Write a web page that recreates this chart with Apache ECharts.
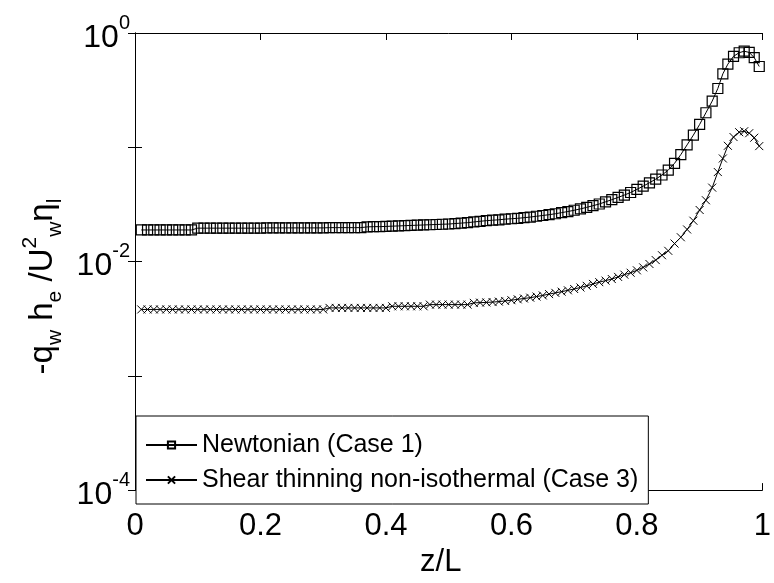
<!DOCTYPE html>
<html>
<head>
<meta charset="utf-8">
<script src="https://cdn.jsdelivr.net/npm/echarts@6/dist/echarts.min.js"></script>
<style>
html,body{margin:0;padding:0;background:#fff;}
#chart{width:774px;height:583px;}
</style>
</head>
<body>
<div id="chart"></div>
<script>
// z/L positions of the computed points
var zL = [
  0.01,0.02,0.03,0.04,0.05,0.06,0.07,0.08,0.09,0.10,
  0.11,0.12,0.13,0.14,0.15,0.16,0.17,0.18,0.19,0.20,
  0.21,0.22,0.23,0.24,0.25,0.26,0.27,0.28,0.29,0.30,
  0.31,0.32,0.33,0.34,0.35,0.36,0.37,0.38,0.39,0.40,
  0.41,0.42,0.43,0.44,0.45,0.46,0.47,0.48,0.49,0.50,
  0.51,0.52,0.53,0.54,0.55,0.56,0.57,0.58,0.59,0.60,
  0.61,0.62,0.63,0.64,0.65,0.66,0.67,0.68,0.69,0.70,
  0.71,0.72,0.73,0.74,0.75,0.76,0.77,0.78,0.79,0.80,
  0.81,0.82,0.83,0.84,0.85,0.86,0.87,0.88,0.89,0.90,
  0.91,0.92,0.929,0.937,0.945,0.954,0.963,0.971,0.979,0.987,
  0.995
];
// Newtonian (Case 1)
var newtonian = [
  0.0189,0.0189,0.0189,0.0189,0.0189,0.0189,0.0189,0.0189,0.0189,
  0.0196,0.0196,0.0196,0.0196,0.0196,0.0196,0.0196,0.0196,0.0196,0.0196,0.0196,
  0.0197,0.0197,0.0197,0.0197,0.0197,0.0197,0.0197,0.0197,0.0197,0.0197,
  0.0198,0.0198,0.0198,0.0198,0.0198,0.0198,
  0.0201,0.0202,0.0202,0.0203,0.0204,0.0205,0.0206,
  0.0207,0.0208,0.0209,0.0210,0.0211,
  0.0212,0.0213,0.0215,0.0217,
  0.0219,0.0222,0.0225,
  0.0228,0.0230,0.0232,0.0235,0.0237,0.0239,0.0242,0.0245,0.0249,0.0253,0.0257,0.0262,
  0.0268,0.0274,0.0281,0.0289,0.0298,0.0308,0.0319,0.0333,0.0348,0.0364,0.0382,0.0402,
  0.0428,0.0457,0.0489,0.0526,0.0572,0.0631,0.0724,0.0863,0.1050,0.1278,0.1585,0.2005,0.2536,
  0.327,0.439,0.534,0.625,0.672,0.693,0.676,0.609,0.509
];
// Shear thinning non-isothermal (Case 3)
var shearThinning = [
  0.00381,0.00381,0.00381,0.00381,0.00381,0.00381,0.00381,0.00381,0.00381,0.00381,
  0.00381,0.00381,0.00381,0.00381,0.00381,0.00381,0.00381,0.00381,0.00381,0.00381,
  0.00381,0.00381,0.00381,0.00381,0.00381,0.00381,0.00381,0.00381,0.00381,0.00381,
  0.00393,0.00393,0.00393,0.00393,0.00393,0.00393,0.00393,0.00393,0.00393,0.00393,
  0.00406,0.00406,0.00406,0.00406,0.00406,0.00406,
  0.00420,0.00420,0.00420,0.00420,0.00420,0.00420,0.00420,
  0.00435,0.00437,0.00439,0.00442,
  0.00446,0.00452,0.00459,0.00467,0.00475,0.00483,0.00494,0.00505,0.00519,0.00532,0.00545,
  0.00560,0.00575,0.00593,0.00613,0.00637,0.00660,0.00681,0.00703,0.00734,0.00768,0.00798,
  0.00838,0.00889,0.00952,0.01030,0.01136,0.01241,0.01437,0.01632,0.01909,0.02277,0.02825,0.03438,0.04434,
  0.0607,0.0798,0.1030,0.1229,0.1355,0.1381,0.1328,0.1212,0.1024
];
var seriesNames = ['Newtonian (Case 1)', 'Shear thinning non-isothermal (Case 3)'];
var xTicks = [0, 0.2, 0.4, 0.6, 0.8, 1];
var yMin = 1e-4, yMax = 1;

var FONT = '"Liberation Sans", Arial, Helvetica, sans-serif';

function pairs(ys) { return zL.map(function (z, i) { return [z, ys[i]]; }); }

var chart = echarts.init(document.getElementById('chart'), null, {renderer: 'canvas'});
var axisLineStyle = {color: '#000', width: 1};
var option = {
  animation: false,
  backgroundColor: '#fff',
  grid: {left: 135, top: 33, right: 9, bottom: 80, containLabel: false},
  xAxis: [{
    type: 'value', min: xTicks[0], max: xTicks[xTicks.length - 1], interval: 0.2,
    position: 'bottom',
    axisLine: {show: true, lineStyle: axisLineStyle},
    axisTick: {show: true, inside: true, length: 7, lineStyle: axisLineStyle},
    splitLine: {show: false},
    axisLabel: {color: '#000', fontFamily: FONT, fontSize: 31, margin: 21,
      formatter: function (v) { return String(Math.round(v * 10) / 10); }},
    name: 'z/L', nameLocation: 'middle', nameGap: 43,
    nameTextStyle: {color: '#000', fontFamily: FONT, fontSize: 31, padding: [0, 16, 0, 0]}
  }, {
    type: 'value', min: xTicks[0], max: xTicks[xTicks.length - 1], interval: 0.2,
    position: 'top',
    axisLine: {show: true, lineStyle: axisLineStyle},
    axisTick: {show: true, inside: true, length: 7, lineStyle: axisLineStyle},
    splitLine: {show: false},
    axisLabel: {show: false}
  }],
  yAxis: [{
    type: 'log', logBase: 10, min: yMin, max: yMax,
    position: 'left',
    axisLine: {show: true, lineStyle: axisLineStyle},
    axisTick: {show: true, inside: true, length: 7, lineStyle: axisLineStyle},
    minorTick: {show: false},
    splitLine: {show: false},
    axisLabel: {
      margin: 5, color: '#000', fontFamily: FONT,
      formatter: function (v) {
        var e = Math.round(Math.log10(v));
        if (e % 2 !== 0) return '';
        return '{b|10}{e|' + e + '}';
      },
      rich: {
        b: {fontSize: 32, fontFamily: FONT, color: '#000', lineHeight: 40, padding: [10, 0, 0, 0]},
        e: {fontSize: 20, fontFamily: FONT, color: '#000', lineHeight: 14, verticalAlign: 'top'}
      }
    },
    name: '{n|-q}{s|w}{n| h}{s|e}{n| /U}{p|2}{s|w}{n|η}{s|l}{g| }',
    nameLocation: 'middle', nameRotate: 90, nameGap: 64,
    nameTextStyle: {
      color: '#000', fontFamily: FONT,
      rich: {
        n: {fontSize: 33, fontFamily: FONT, color: '#000', lineHeight: 46},
        s: {fontSize: 21, fontFamily: FONT, color: '#000', lineHeight: 14, verticalAlign: 'bottom'},
        p: {fontSize: 21, fontFamily: FONT, color: '#000', lineHeight: 14, verticalAlign: 'top'},
        g: {fontSize: 10, width: 50}
      }
    }
  }, {
    type: 'log', logBase: 10, min: yMin, max: yMax,
    position: 'right',
    axisLine: {show: true, lineStyle: axisLineStyle},
    axisTick: {show: true, inside: true, length: 7, lineStyle: axisLineStyle},
    splitLine: {show: false},
    axisLabel: {show: false}
  }],
  legend: {
    show: true, orient: 'vertical', left: 136, top: 416,
    backgroundColor: '#fff', borderColor: '#000', borderWidth: 1, borderRadius: 0,
    padding: [16, 10, 11, 9],
    itemWidth: 51, itemHeight: 9, itemGap: 9,
    textStyle: {color: '#000', fontFamily: FONT, fontSize: 25, lineHeight: 26},
    data: seriesNames
  },
  series: [{
    name: seriesNames[0], type: 'line', xAxisIndex: 0, yAxisIndex: 0,
    data: pairs(newtonian),
    symbol: 'rect', symbolSize: 10, showAllSymbol: true,
    itemStyle: {color: 'transparent', borderColor: '#000', borderWidth: 1.2},
    lineStyle: {color: '#000', width: 1},
    emphasis: {disabled: true}, silent: true
  }, {
    name: seriesNames[1], type: 'line', xAxisIndex: 0, yAxisIndex: 0,
    data: pairs(shearThinning),
    symbol: 'path://M0,0L10,10M10,0L0,10', symbolSize: 8, showAllSymbol: true,
    itemStyle: {color: 'transparent', borderColor: '#000', borderWidth: 1},
    lineStyle: {color: '#000', width: 1},
    emphasis: {disabled: true}, silent: true
  }]
};
chart.setOption(option);
</script>
</body>
</html>
